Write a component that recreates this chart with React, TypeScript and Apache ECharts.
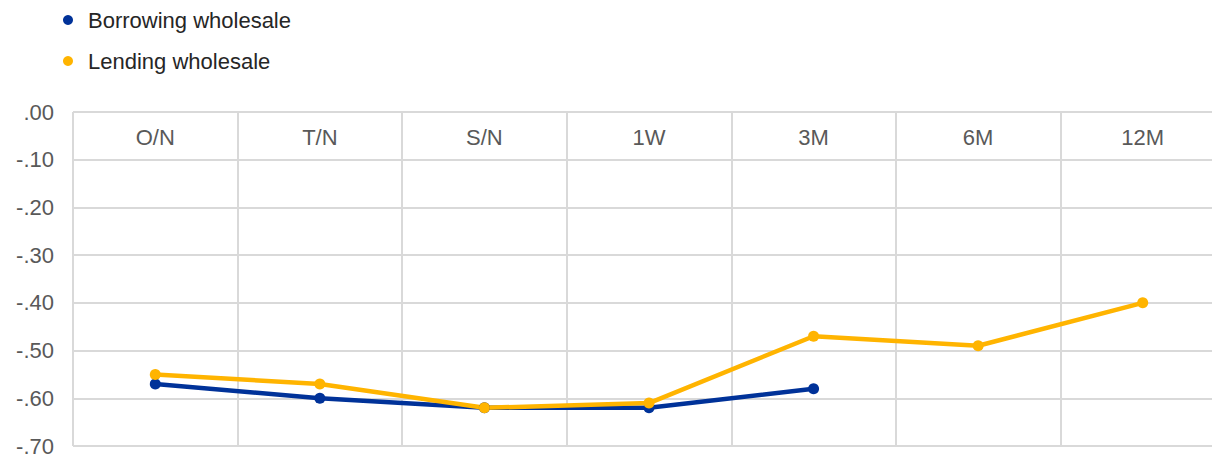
import React, { useEffect, useRef } from "react";
import * as echarts from "echarts";

const categories = ["O/N", "T/N", "S/N", "1W", "3M", "6M", "12M"];
const borrowingWholesale = [-0.57, -0.6, -0.62, -0.62, -0.58, null, null];
const lendingWholesale = [-0.55, -0.57, -0.62, -0.61, -0.47, -0.49, -0.4];
const seriesNames = ["Borrowing wholesale", "Lending wholesale"];

const fmt = (v: number) => {
  const s = (Math.abs(v) < 1e-9 ? 0 : v).toFixed(2);
  return s.replace("0.", ".");
};

export default function App() {
  const ref = useRef<HTMLDivElement>(null);
  useEffect(() => {
    if (!ref.current) return;
    const chart = echarts.init(ref.current, null, { renderer: "svg" });
    const font = "'Liberation Sans', Arial, sans-serif";
    chart.setOption({
      animation: false,
      legend: {
        orient: "vertical",
        left: 58,
        top: 4,
        icon: "circle",
        itemWidth: 10,
        itemHeight: 10,
        itemGap: 19,
        textStyle: {
          fontFamily: font,
          fontSize: 22,
          color: "#262626",
          padding: [0, 0, 0, 10],
        },
        data: seriesNames,
      },
      grid: { left: 73, top: 112, bottom: 9, right: 5, containLabel: false },
      xAxis: {
        type: "category",
        data: categories,
        position: "top",
        boundaryGap: true,
        axisLine: { show: false },
        axisTick: { show: false },
        axisLabel: {
          inside: true,
          margin: 25,
          verticalAlign: "middle",
          fontFamily: font,
          fontSize: 22,
          color: "#595959",
        },
        splitLine: { show: true, interval: 0, lineStyle: { color: "#d9d9d9", width: 2 } },
      },
      yAxis: {
        type: "value",
        min: -0.7,
        max: 0,
        interval: 0.1,
        axisLine: { show: false },
        axisTick: { show: false },
        axisLabel: {
          margin: 19,
          formatter: fmt,
          fontFamily: font,
          fontSize: 22,
          color: "#595959",
        },
        splitLine: { show: true, lineStyle: { color: "#d9d9d9", width: 2 } },
      },
      series: [
        {
          name: seriesNames[0],
          type: "line",
          data: borrowingWholesale,
          color: "#003299",
          lineStyle: { width: 4.5, color: "#003299" },
          symbol: "circle",
          symbolSize: 11,
          itemStyle: { color: "#003299" },
        },
        {
          name: seriesNames[1],
          type: "line",
          data: lendingWholesale,
          color: "#FFB400",
          lineStyle: { width: 4.5, color: "#FFB400" },
          symbol: "circle",
          symbolSize: 11,
          itemStyle: { color: "#FFB400" },
        },
      ],
    });
    return () => chart.dispose();
  }, []);
  return (
    <div
      style={{ position: "fixed", left: 0, top: 0, width: 1212, height: 457, overflow: "hidden", background: "#fff" }}
    >
      <div ref={ref} style={{ width: 1230, height: 457 }} />
    </div>
  );
}
